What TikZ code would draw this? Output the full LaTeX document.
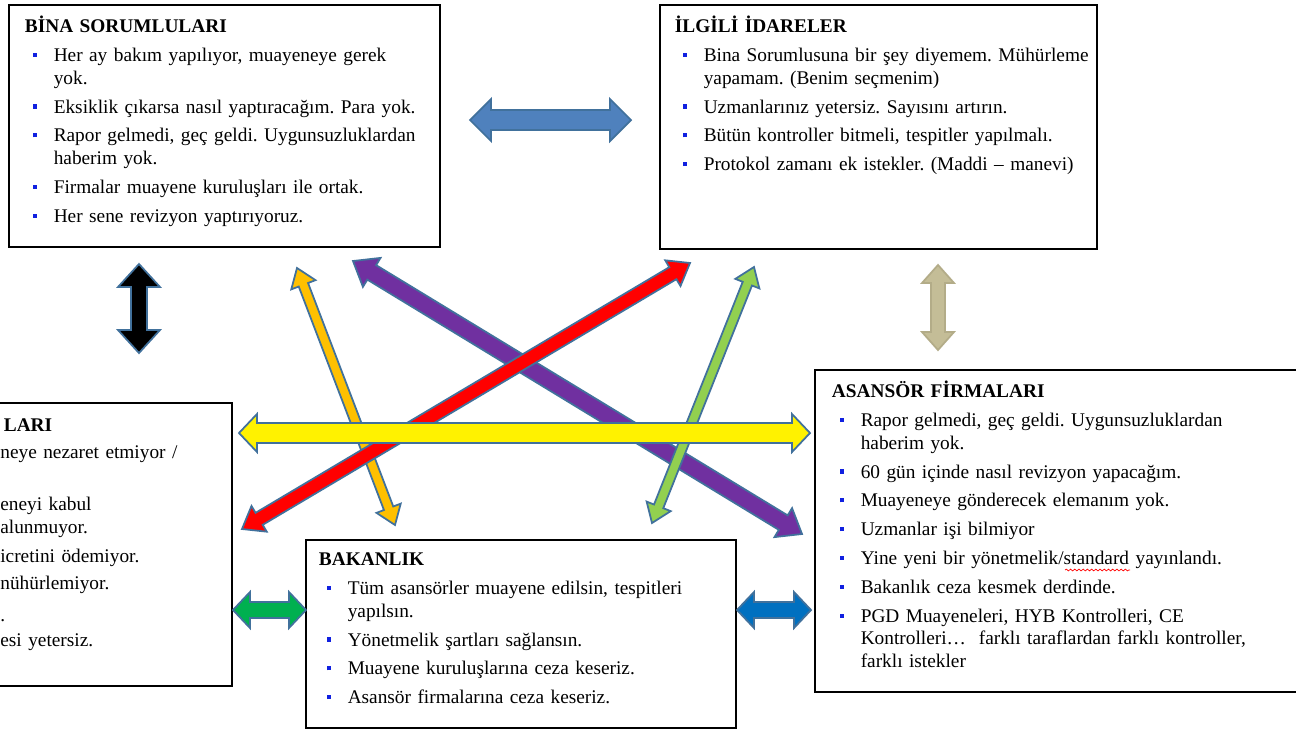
\documentclass[tikz,border=0pt]{standalone}
\usepackage{fontspec}
\setmainfont{Liberation Serif}
\usetikzlibrary{calc,fit,decorations.pathmorphing}

\definecolor{bulletblue}{HTML}{1020E0}
\definecolor{arrowedge}{HTML}{41719C}
\definecolor{topblue}{HTML}{4F81BD}
\definecolor{tan}{HTML}{C4BD97}
\definecolor{tanedge}{HTML}{B3AC88}
\definecolor{orng}{HTML}{FFC000}
\definecolor{purp}{HTML}{7030A0}
\definecolor{lgreen}{HTML}{92D050}
\definecolor{dgreen}{HTML}{00B050}
\definecolor{dblue}{HTML}{0070C0}

% one bullet line of a box
\newcommand\itm[1]{\par\vspace{3.4pt}\hangindent=16.4pt\hangafter=1\noindent
  \makebox[16.4pt][l]{\hspace{4.8pt}\textcolor{bulletblue}{\rule[2.6pt]{2.3pt}{2.3pt}}}#1}

% double headed block arrow: ends, body half width, head half width, head length (px), fill
\newcommand\dblarrow[7][arrowedge]{%
  \pgfmathsetmacro\abody{#4*0.567}%
  \pgfmathsetmacro\ahead{#5*0.567}%
  \pgfmathsetmacro\alen{#6*0.567}%
  \filldraw[blockarrow, draw=#1, fill=#7] (#2)
    -- ($(#2)!\alen pt!(#3)!\ahead pt!90:(#3)$)
    -- ($(#2)!\alen pt!(#3)!\abody pt!90:(#3)$)
    -- ($(#3)!\alen pt!(#2)!\abody pt!-90:(#2)$)
    -- ($(#3)!\alen pt!(#2)!\ahead pt!-90:(#2)$)
    -- (#3)
    -- ($(#3)!\alen pt!(#2)!\ahead pt!90:(#2)$)
    -- ($(#3)!\alen pt!(#2)!\abody pt!90:(#2)$)
    -- ($(#2)!\alen pt!(#3)!\abody pt!-90:(#3)$)
    -- ($(#2)!\alen pt!(#3)!\ahead pt!-90:(#3)$)
    -- cycle;}

\tikzset{
  box/.style={draw, line width=1.6pt, inner sep=0pt},
  boxtext/.style={anchor=base west, inner sep=0pt, text width=10cm,
    font=\fontsize{11}{13}\selectfont\frenchspacing},
  blockarrow/.style={line width=1pt, line join=miter},
}

\begin{document}
\begin{tikzpicture}[x=0.02cm, y=-0.02cm]
  \clip (0,0) rectangle (1296,731);
  \fill[white] (0,0) rectangle (1296,731);

  % boxes
  \node[box, fit={(9,5) (440,247)}] (bina) {};
  \node[box, fit={(660,5) (1097,249)}] (idare) {};
  \node[box, line width=1.2pt, fit={(-20,403) (232,686)}] (kurulus) {};
  \node[box, fit={(306,540) (736,728)}] (bakan) {};
  \node[box, fit={(815,370) (1320,692)}] (firma) {};

  \node[boxtext] (binatxt) at ([shift={(17,29)}]bina.north west) {\textbf{BİNA SORUMLULARI}
    \itm{Her ay bakım yapılıyor, muayeneye gerek\newline yok.}
    \itm{Eksiklik çıkarsa nasıl yaptıracağım. Para yok.}
    \itm{Rapor gelmedi, geç geldi. Uygunsuzluklardan\newline haberim yok.}
    \itm{Firmalar muayene kuruluşları ile ortak.}
    \itm{Her sene revizyon yaptırıyoruz.}\par};

  \node[boxtext] (idaretxt) at ([shift={(16,29)}]idare.north west) {\textbf{İLGİLİ İDARELER}
    \itm{Bina Sorumlusuna bir şey diyemem. Mühürleme\newline yapamam. (Benim seçmenim)}
    \itm{Uzmanlarınız yetersiz. Sayısını artırın.}
    \itm{Bütün kontroller bitmeli, tespitler yapılmalı.}
    \itm{Protokol zamanı ek istekler. (Maddi – manevi)}\par};

  \node[boxtext, align=left] (kurtxt) at (0,431) {\hspace{2pt}\textbf{LARI}\\[2.8pt]
    neye nezaret etmiyor /\\[16.4pt]
    eneyi kabul\\
    alunmuyor.\\[3.9pt]
    icretini ödemiyor.\\[2.3pt]
    nühürlemiyor.\\[5.1pt]
    .\\[1.1pt]
    esi yetersiz.};

  \node[boxtext] (bakantxt) at ([shift={(14,27)}]bakan.north west) {\textbf{BAKANLIK}
    \itm{Tüm asansörler muayene edilsin, tespitleri\newline yapılsın.}
    \itm{Yönetmelik şartları sağlansın.}
    \itm{Muayene kuruluşlarına ceza keseriz.}
    \itm{Asansör firmalarına ceza keseriz.}\par};

  \node[boxtext] (firmatxt) at ([shift={(18,29)}]firma.north west) {\textbf{ASANSÖR FİRMALARI}
    \itm{Rapor gelmedi, geç geldi. Uygunsuzluklardan\newline haberim yok.}
    \itm{60 gün içinde nasıl revizyon yapacağım.}
    \itm{Muayeneye gönderecek elemanım yok.}
    \itm{Uzmanlar işi bilmiyor}
    \itm{Yine yeni bir yönetmelik/standard yayınlandı.}
    \itm{Bakanlık ceza kesmek derdinde.}
    \itm{PGD Muayeneleri, HYB Kontrolleri, CE\newline Kontrolleri…\ \ farklı taraflardan farklı kontroller,\newline farklı istekler}\par};
  \draw[red, decorate, decoration={snake, amplitude=0.5pt, segment length=2.4pt}]
    (1065,570) -- (1130,570);

  % arrow ends
  \coordinate (blueA) at (470,120);  \coordinate (blueB) at (631,120);
  \coordinate (blackA) at (139,264); \coordinate (blackB) at (139,353);
  \coordinate (tanA) at (938,265);   \coordinate (tanB) at (938,350);
  \coordinate (purpA) at (353,261);  \coordinate (purpB) at (802,534);
  \coordinate (orA) at (297,268);    \coordinate (orB) at (395,525);
  \coordinate (grA) at (754,267);    \coordinate (grB) at (652,523);
  \coordinate (redA) at (242,529);   \coordinate (redB) at (690,263);
  \coordinate (yelA) at (239,433);   \coordinate (yelB) at (810,433);
  \coordinate (dgA) at (233,610);    \coordinate (dgB) at (306,610);
  \coordinate (dbA) at (737,610);    \coordinate (dbB) at (811,610);

  \dblarrow{blueA}{blueB}{10}{21}{21}{topblue}
  \dblarrow{blackA}{blackB}{8}{21}{23}{black}
  \dblarrow[tanedge]{tanA}{tanB}{7}{16}{18}{tan}
  \dblarrow{purpA}{purpB}{8.5}{17}{22}{purp}
  \dblarrow{orA}{orB}{5}{13}{18}{orng}
  \dblarrow{grA}{grB}{5}{13}{18}{lgreen}
  \dblarrow{redA}{redB}{7}{15}{20}{red}
  \dblarrow{yelA}{yelB}{10}{19}{18}{yellow}
  \dblarrow{dgA}{dgB}{8}{18}{17}{dgreen}
  \dblarrow{dbA}{dbB}{8}{18}{17}{dblue}
\end{tikzpicture}
\end{document}
